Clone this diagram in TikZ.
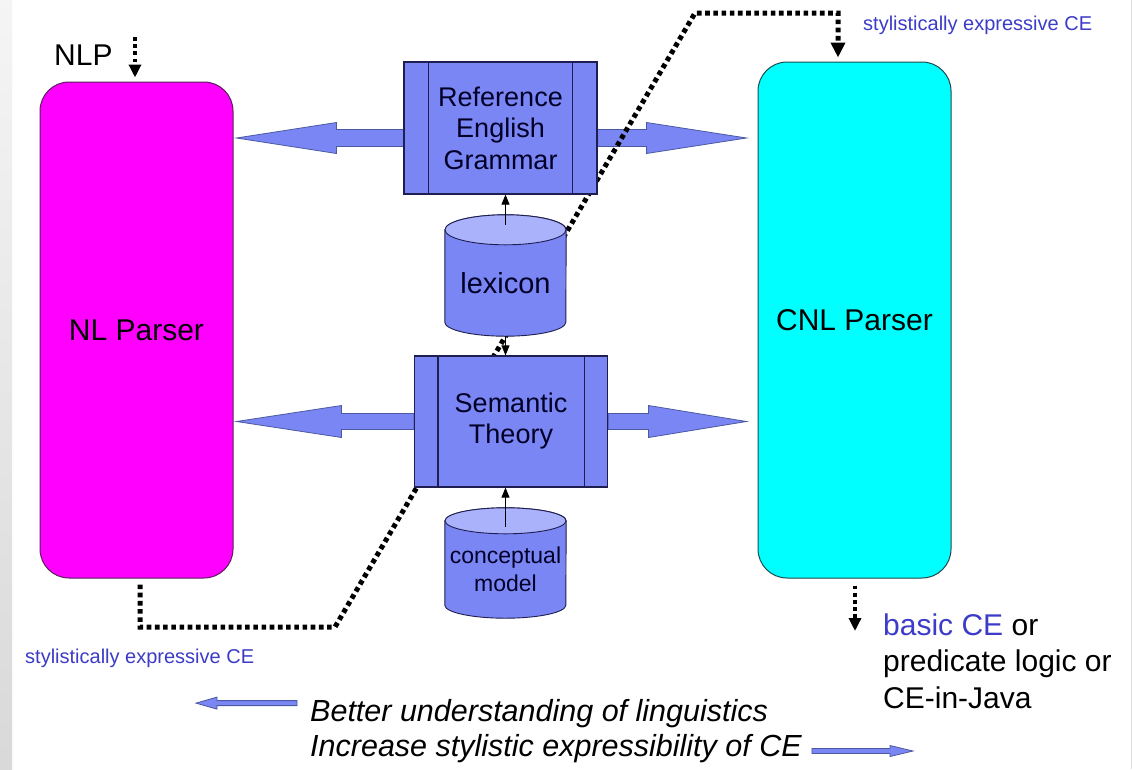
\documentclass[tikz,border=0pt]{standalone}
\usepackage{fontspec}
\setmainfont{Liberation Sans}
\usetikzlibrary{calc,arrows.meta}
\pgfdeclarelayer{back}
\pgfdeclarelayer{bg}
\pgfdeclarelayer{mid}
\pgfsetlayers{back,bg,mid,main}
\definecolor{boxblue}{HTML}{7B86F5}
\definecolor{boxtop}{HTML}{A9B2FA}
\definecolor{boxline}{HTML}{1E1E50}
\definecolor{arrline}{HTML}{4B5AA0}
\definecolor{ceblue}{HTML}{3C3CC8}
\definecolor{magentabox}{HTML}{FF00FF}
\definecolor{cyanbox}{HTML}{00FFFF}
\definecolor{nlline}{HTML}{5A1E5A}
\definecolor{cnlline}{HTML}{1E4A4A}
\newcommand\fs[2]{\fontsize{#1}{#2}\selectfont}
% cylinder drawn around a node: #1 node, #2 top radius y, #3 bottom radius y
\newcommand\cyl[3]{%
  \filldraw[cylbody] (#1.north west) -- ($(#1.south west)+(0,#3)$)
    arc[start angle=180,end angle=360,x radius=60.5pt,y radius=#3pt]
    -- (#1.north east) arc[start angle=0,end angle=180,x radius=60.5pt,y radius=#2pt] -- cycle;
  \filldraw[cyltop] (#1.north) ellipse[x radius=60.5pt,y radius=#2pt];}
% horizontal block arrow: #1 style, #2 tail, #3 tip, #4 shaft half, #5 head half, #6 head length, #7 side of base (1 right, -1 left)
\newcommand\harrow[7]{%
  \filldraw[#1] let \p1=(#2), \p2=(#3) in
    (\x1,\y1+#4) -- (\x2+#7*#6,\y1+#4) -- (\x2+#7*#6,\y1+#5) -- (\x2,\y1)
    -- (\x2+#7*#6,\y1-#5) -- (\x2+#7*#6,\y1-#4) -- (\x1,\y1-#4) -- cycle;}
\begin{document}
\begin{tikzpicture}[x=1pt,y=1pt,
  parser/.style={rounded corners=29pt, minimum width=193pt, inner sep=0pt, line width=1pt, font=\fs{30}{36}},
  procbox/.style={draw=boxline, line width=1.2pt, fill=boxblue, minimum width=193pt, minimum height=132pt,
    inner sep=0pt, align=center, font=\fs{27}{31.5}, text=black!85!blue},
  cylnode/.style={minimum width=121pt, inner sep=0pt, align=center, text=black!85!blue},
  cylbody/.style={fill=boxblue, draw=boxline, line width=0.9pt},
  cyltop/.style={fill=boxtop, draw=boxline, line width=0.9pt},
  barrow/.style={fill=boxblue, draw=arrline, line width=0.8pt},
  inner/.style={draw=boxline, line width=1.2pt},
  dots/.style={line width=5pt, dash pattern=on 4.6pt off 3.6pt},
  thinarrow/.style={line width=0.8pt, -{Triangle[length=10pt,width=8pt]}},
  dotarrow/.style={line width=4pt, dash pattern=on 3.8pt off 3.4pt, -{Triangle[length=13pt,width=12pt]}},
  bluetext/.style={text=ceblue, font=\fs{20}{24}, inner sep=0pt},
  plain/.style={font=\fs{30}{36}, inner sep=0pt},
  legend/.style={font=\fs{30.5}{35}\itshape, inner sep=0pt},
  ]
\useasboundingbox (0,0) rectangle (1132,-769);
\begin{pgfonlayer}{back}
  \fill[white] (0,0) rectangle (1132,-769);
  \shade[top color=black!4, bottom color=black!15] (0,0) rectangle (12,-769);
  \draw[black!12, line width=1pt] (1131,0) -- (1131,-769);
\end{pgfonlayer}

% main nodes
\node[parser, fill=magentabox, draw=nlline, minimum height=496pt] (nlp) at (136.5,-330) {NL Parser};
\node[parser, fill=cyanbox, draw=cnlline, minimum height=516pt] (cnl) at (854.5,-320) {CNL Parser};
\node[procbox] (reg) at (500.5,-128) {Reference\\English\\Grammar};
\node[procbox, minimum height=131pt] (sem) at (511,-421.5) {\raisebox{-3pt}{\begin{tabular}{@{}c@{}}Semantic\\Theory\end{tabular}}};
\draw[inner] ($(reg.north west)+(25,0)$) -- ($(reg.south west)+(25,0)$);
\draw[inner] ($(reg.north east)+(-25,0)$) -- ($(reg.south east)+(-25,0)$);
\draw[inner] ($(sem.north west)+(24,0)$) -- ($(sem.south west)+(24,0)$);
\draw[inner] ($(sem.north east)+(-24,0)$) -- ($(sem.south east)+(-24,0)$);
\node[cylnode, minimum height=106pt, font=\fs{29}{34}] (lex) at (505.5,-283) {lexicon};
\node[cylnode, minimum height=97pt, font=\fs{23}{28}] (cm) at (505.5,-569.5) {conceptual\\model};
\begin{pgfonlayer}{mid}
  \cyl{lex}{15}{14}
  \cyl{cm}{13}{13}
\end{pgfonlayer}

% texts
\node[plain, anchor=base west] (nlpin) at (54,-65) {NLP};
\node[bluetext, anchor=base west] (ceTop) at (863,-30) {stylistically expressive CE};
\node[bluetext, anchor=base west] (ceBot) at (25,-663) {stylistically expressive CE};
\node[plain, anchor=base west] (out1) at (883,-635) {\textcolor{ceblue}{basic CE} or};
\node[plain, anchor=base west] (out2) at (883,-671.5) {predicate logic or};
\node[plain, anchor=base west] (out3) at (883,-708) {CE-in-Java};
\node[legend, anchor=base west] (better) at (310,-721) {Better understanding of linguistics};
\node[legend, anchor=base west] (incr) at (310,-756) {Increase stylistic expressibility of CE};

% coordinates for free ends and bends
\coordinate (nlpsrc) at (135,-37);
\coordinate (cnlout) at (855,-631);
\coordinate (bendA) at (335,-627);
\coordinate (bendB) at (695,-13);
\coordinate (lgL) at (196,-711);
\coordinate (lgR) at (913,-751);

\begin{pgfonlayer}{bg}
  \coordinate (regLs) at ($(reg.west)+(0,-10)$);
  \coordinate (regRs) at ($(reg.east)+(0,-10)$);
  \harrow{barrow}{regLs}{$(nlp.east |- regLs)+(3,0)$}{8.5}{15.5}{100}{1}
  \harrow{barrow}{regRs}{$(cnl.west |- regRs)+(-11,0)$}{8.5}{15.5}{100}{-1}
  \harrow{barrow}{sem.west}{$(nlp.east |- sem.west)+(3,0)$}{8}{16}{105}{1}
  \harrow{barrow}{sem.east}{$(cnl.west |- sem.east)+(-11,0)$}{8}{16}{98}{-1}
  \harrow{barrow}{$(better.west)+(-13,10)$}{lgL}{2.5}{6}{21}{1}
  \harrow{barrow}{$(incr.east |- lgR)+(10,0)$}{lgR}{2.5}{5.5}{23}{-1}
  \draw[dots, -{Triangle[length=15pt,width=14pt]}] ($(nlp.south)+(3.5,-6)$) |- (bendA) -- (bendB) -| ($(cnl.north)+(-16.5,4)$);
\end{pgfonlayer}

% small connectors
\draw[dotarrow] (nlpsrc) -- ($(nlp.north)+(-1.5,4)$);
\draw[dotarrow] ($(cnl.south)+(0.5,-7)$) -- (cnlout);
\draw[thinarrow] ($(lex.north)+(0,5)$) -- (lex.north |- reg.south);
\draw[thinarrow] (lex.south) -- (lex.south |- sem.north);
\draw[thinarrow] ($(cm.north)+(0,-6)$) -- (cm.north |- sem.south);
\end{tikzpicture}
\end{document}
